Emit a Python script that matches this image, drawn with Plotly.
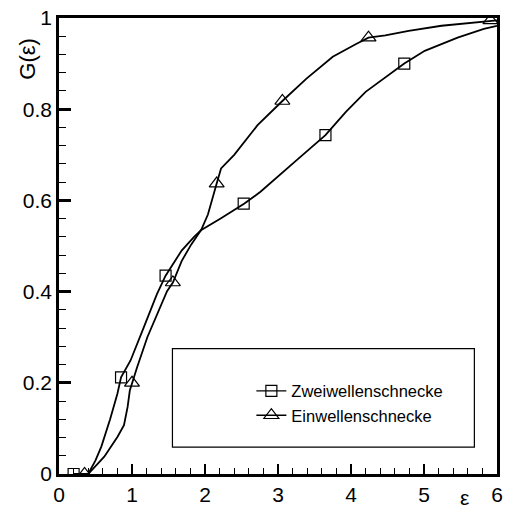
import plotly.graph_objects as go

# --- data ---
zwei_line_x = [0.2, 0.4, 0.5, 0.58, 0.7, 0.80, 0.85, 0.98, 1.16, 1.34, 1.46, 1.68, 1.85, 1.95, 2.22, 2.54, 2.76, 2.99, 3.26, 3.65, 3.93, 4.2, 4.47, 4.73, 5.01, 5.46, 5.82, 6.0]
zwei_line_y = [0.0, 0.0, 0.03, 0.06, 0.12, 0.176, 0.212, 0.249, 0.321, 0.394, 0.435, 0.49, 0.52, 0.535, 0.561, 0.593, 0.619, 0.652, 0.689, 0.743, 0.794, 0.838, 0.87, 0.9, 0.928, 0.957, 0.976, 0.983]
ein_line_x = [0.35, 0.4, 0.62, 0.80, 0.89, 0.94, 0.97, 1.0, 1.07, 1.21, 1.34, 1.48, 1.56, 1.68, 1.81, 1.95, 2.04, 2.11, 2.16, 2.22, 2.40, 2.72, 3.06, 3.39, 3.75, 4.07, 4.24, 4.47, 4.79, 5.24, 5.55, 5.91, 6.0]
ein_line_y = [0.0, 0.0, 0.038, 0.081, 0.107, 0.147, 0.183, 0.2, 0.234, 0.3, 0.35, 0.401, 0.42, 0.467, 0.503, 0.536, 0.569, 0.612, 0.637, 0.67, 0.70, 0.765, 0.818, 0.867, 0.915, 0.943, 0.957, 0.962, 0.972, 0.983, 0.988, 0.995, 0.995]

zwei_mark_x = [0.2, 0.85, 1.46, 2.53, 3.65, 4.73]
zwei_mark_y = [0.0, 0.212, 0.435, 0.593, 0.743, 0.9]
ein_mark_x = [0.35, 1.0, 1.56, 2.16, 3.06, 4.24, 5.91]
ein_mark_y = [0.0, 0.2, 0.42, 0.637, 0.818, 0.957, 0.995]

series_names = ["Zweiwellenschnecke", "Einwellenschnecke"]
x_ticks = [0, 1, 2, 3, 4, 5, 6]
y_ticks = [0, 0.2, 0.4, 0.6, 0.8, 1]

FONT = "Liberation Sans, Arial, sans-serif"
fig = go.Figure()

for lx, ly, mx, my, sym, msize, name in [
    (zwei_line_x, zwei_line_y, zwei_mark_x, zwei_mark_y, "square-open", 11, series_names[0]),
    (ein_line_x, ein_line_y, ein_mark_x, ein_mark_y, "triangle-up-open", 13, series_names[1]),
]:
    fig.add_trace(go.Scatter(x=lx, y=ly, mode="lines", line=dict(color="black", width=1.8),
                             showlegend=False, hoverinfo="skip"))
    fig.add_trace(go.Scatter(x=mx, y=my, mode="markers",
                             marker=dict(symbol=sym, size=msize, color="black", line=dict(width=1.2, color="black")),
                             showlegend=False))
    fig.add_trace(go.Scatter(x=[None], y=[None], mode="lines+markers", name=name,
                             line=dict(color="black", width=1.3),
                             marker=dict(symbol=sym, size=msize, color="black", line=dict(width=1.2, color="black"))))

# legend frame
fig.add_shape(type="rect", xref="x", yref="y", x0=1.554, x1=5.69, y0=0.059, y1=0.275,
              line=dict(color="black", width=1.2), fillcolor="rgba(0,0,0,0)")

fig.update_layout(
    width=509, height=513,
    margin=dict(l=59, r=6, t=15, b=39),
    paper_bgcolor="white", plot_bgcolor="white",
    font=dict(family=FONT, color="black", size=21),
    showlegend=True,
    legend=dict(x=(254 - 59) / 444, y=(474 - 373) / 458.5, xanchor="left", yanchor="top",
                bgcolor="rgba(0,0,0,0)", borderwidth=0, font=dict(size=16.5, family=FONT),
                tracegroupgap=0, itemwidth=30),
)
fig.update_xaxes(range=[0, 6], tickvals=x_ticks, ticks="inside", ticklen=10, tickwidth=2, tickcolor="black",
                 showline=True, linewidth=2.5, linecolor="black", mirror=True,
                 showgrid=False, zeroline=False,
                 minor=dict(dtick=0.2, ticks="inside", ticklen=6, tickwidth=1.2, tickcolor="black", showgrid=False),
                 tickfont=dict(size=21))
fig.update_yaxes(range=[0, 1], tickvals=y_ticks, ticktext=["0", "0.2", "0.4", "0.6", "0.8", "1"],
                 ticks="inside", ticklen=12, tickwidth=2.5, tickcolor="black",
                 showline=True, linewidth=2.5, linecolor="black", mirror=True,
                 showgrid=False, zeroline=False,
                 minor=dict(dtick=0.04, ticks="inside", ticklen=7, tickwidth=1.2, tickcolor="black", showgrid=False),
                 tickfont=dict(size=21))

fig.add_annotation(text="G(ε)", xref="paper", yref="paper", x=-(59 - 27) / 444, y=(474 - 56) / 458.5,
                   showarrow=False, textangle=-90, font=dict(size=22, family=FONT), xanchor="center", yanchor="middle")
fig.add_annotation(text="ε", xref="paper", yref="paper", x=(470 - 59) / 444, y=-(498 - 474) / 458.5,
                   showarrow=False, font=dict(size=21, family=FONT), xanchor="center", yanchor="middle")

fig.write_html("out.html", config={"responsive": False, "displayModeBar": False},
               post_script="document.body.style.margin='0';document.body.style.overflow='hidden';")
